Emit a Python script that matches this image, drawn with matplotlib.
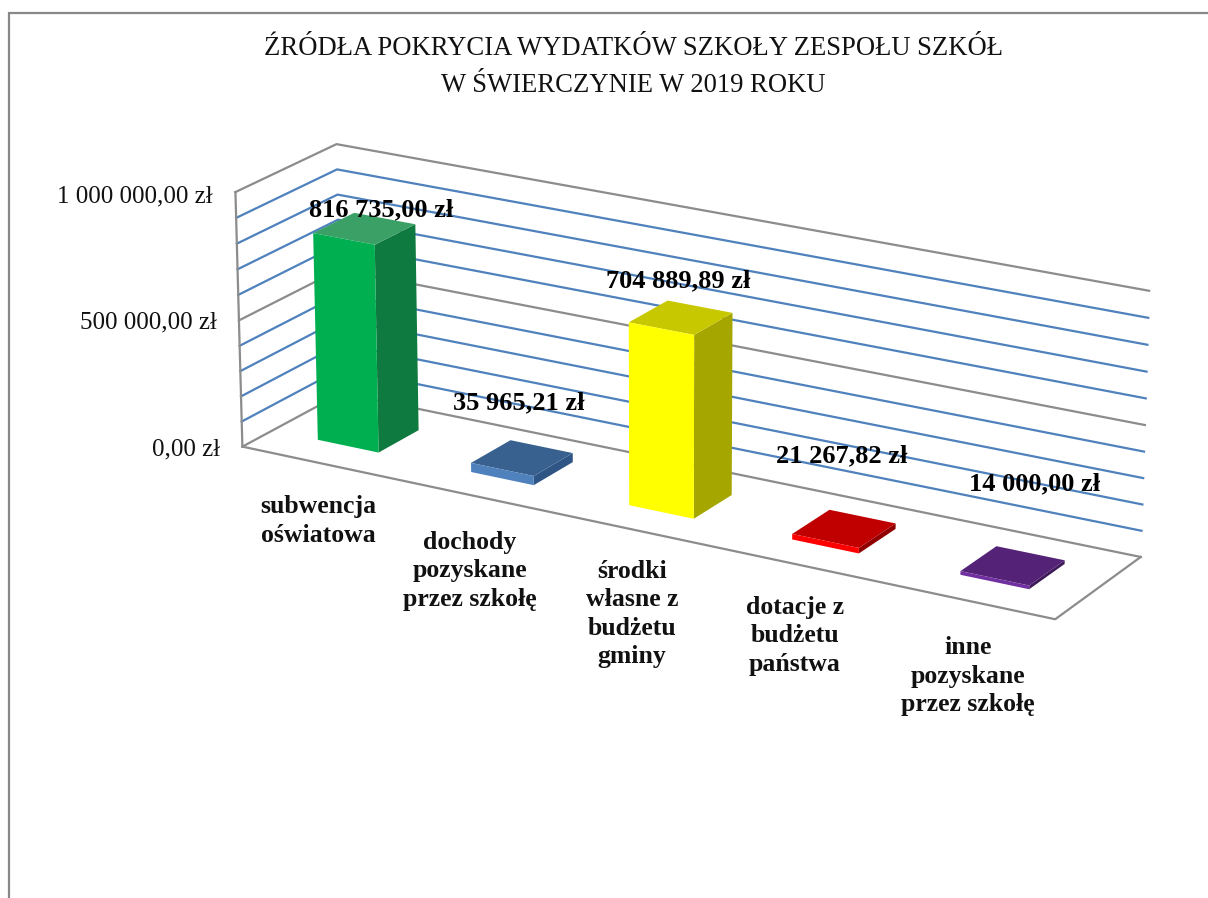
"3d style column chart drawn with a small projection helper"

import numpy as np
import matplotlib
matplotlib.use("Agg")
import matplotlib.pyplot as plt

categories = ["subwencja\noświatowa", "dochody\npozyskane\nprzez szkołę",
              "środki\nwłasne z\nbudżetu\ngminy", "dotacje z\nbudżetu\npaństwa",
              "inne\npozyskane\nprzez szkołę"]
values = [816735.00, 35965.21, 704889.89, 21267.82, 14000.00]
value_labels = ["816 735,00 zł", "35 965,21 zł", "704 889,89 zł", "21 267,82 zł", "14 000,00 zł"]
tick_values = [0, 500000, 1000000]
tick_labels = ["0,00 zł", "500 000,00 zł", "1 000 000,00 zł"]
front_colors = ["#00B050", "#4F81BD", "#FFFF00", "#FF0000", "#7030A0"]
top_colors = ["#3AA066", "#386190", "#C8C800", "#C00000", "#542378"]
side_colors = ["#0F7A3F", "#2F5585", "#A6A600", "#900000", "#3E1A59"]

GRAY = "#8C8C8C"
BLUE = "#4F81BD"
MAX_VALUE = 1000000.0

# where the corners of the chart box land in the picture: (u, w, v) -> (x, y)
box_corners = [(0, 0, 0), (1, 0, 0), (1, 1, 0), (0, 1, 0), (0, 0, 1), (1, 1, 1), (0, 1, 1)]
box_screen = [(243, 446), (1055, 620), (1141, 556), (341, 394), (235, 192), (1149, 291), (337, 144)]


def fit_camera(corners, screen):
    rows = []
    for (u, w, v), (x, y) in zip(corners, screen):
        rows.append([u, w, v, 1, 0, 0, 0, 0, -x * u, -x * w, -x * v, -x])
        rows.append([0, 0, 0, 0, u, w, v, 1, -y * u, -y * w, -y * v, -y])
    return np.linalg.svd(np.array(rows, float))[2][-1].reshape(3, 4)


camera = fit_camera(box_corners, box_screen)


def project(u, w, value):
    "category position u, depth w, money value -> picture position"
    p = camera @ [u, w, value / MAX_VALUE, 1]
    return p[:2] / p[2]


plt.rcParams["font.family"] = ["Liberation Serif", "DejaVu Serif"]

fig = plt.figure(figsize=(12.08, 8.98), dpi=100)
ax = fig.add_axes([0, 0, 1, 1])
ax.set_xlim(0, 1208)
ax.set_ylim(898, 0)
ax.axis("off")

# chart frame
ax.plot([9, 9, 1208], [898, 13, 13], color="#888888", lw=1.6, solid_joinstyle="miter")

# walls and grid lines
for val in np.arange(0, MAX_VALUE + 1, 100000):
    a = project(0, 0, val)
    b = project(0, 1, val)
    c = project(1, 1, val)
    col = GRAY if val % 500000 == 0 else BLUE
    ax.plot([a[0], b[0], c[0]], [a[1], b[1], c[1]], color=col, lw=1.6, zorder=2)

a = project(0, 0, 0)
b = project(0, 0, MAX_VALUE)
ax.plot([a[0], b[0]], [a[1], b[1]], color=GRAY, lw=1.6, zorder=2)
a = project(0, 0, 0)
b = project(1, 0, 0)
c = project(1, 1, 0)
ax.plot([a[0], b[0], c[0]], [a[1], b[1], c[1]], color=GRAY, lw=1.6, zorder=2)

# columns
half_w = 0.04
w0, w1 = 0.30, 0.71
for i, val in enumerate(values):
    u0 = (i + 0.5) / len(values) - half_w
    u1 = (i + 0.5) / len(values) + half_w
    side = [project(u1, w0, 0), project(u1, w1, 0), project(u1, w1, val), project(u1, w0, val)]
    top = [project(u0, w0, val), project(u1, w0, val), project(u1, w1, val), project(u0, w1, val)]
    front = [project(u0, w0, 0), project(u1, w0, 0), project(u1, w0, val), project(u0, w0, val)]
    ax.fill(*zip(*side), color=side_colors[i], lw=0, zorder=3)
    ax.fill(*zip(*top), color=top_colors[i], lw=0, zorder=3)
    ax.fill(*zip(*front), color=front_colors[i], lw=0, zorder=3)

# texts
ax.text(633, 67, "ŹRÓDŁA POKRYCIA WYDATKÓW SZKOŁY ZESPOŁU SZKÓŁ\nW ŚWIERCZYNIE W 2019 ROKU",
        ha="center", va="center", fontsize=19.2, linespacing=1.62, color="#111111")

tick_right = [220, 217, 213]
tick_y = [449, 322, 196]
for lab, x, y in zip(tick_labels, tick_right, tick_y):
    ax.text(x, y, lab, ha="right", va="center", fontsize=18, color="#111111")

label_x = [381, 519, 678, 842, 1035]
label_y = [210, 403, 281, 456, 484]
for lab, x, y in zip(value_labels, label_x, label_y):
    ax.text(x, y, lab, ha="center", va="center", fontsize=19, fontweight="bold", zorder=5)

cat_x = [318, 470, 632, 795, 968]
cat_y = [521, 571, 614, 636, 676]
for lab, x, y in zip(categories, cat_x, cat_y):
    ax.text(x, y, lab, ha="center", va="center", fontsize=18.5, fontweight="bold",
            linespacing=1.3, color="#111111")

fig.savefig("out.png", dpi=100)
